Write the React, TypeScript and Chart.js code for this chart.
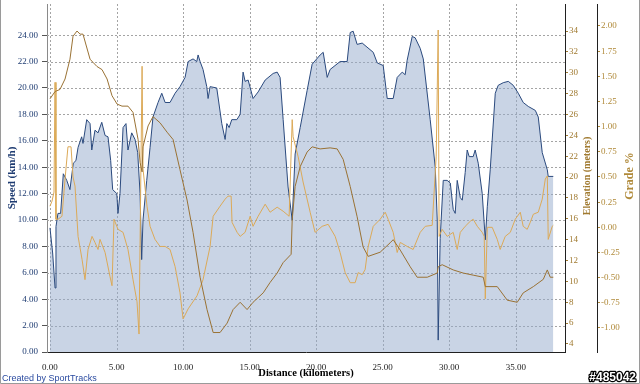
import React, { useEffect, useRef } from "react";
import { Chart, registerables } from "chart.js";

Chart.register(...registerables);

// ---------- data ----------
const speedDistKm = [0.00,0.20,0.38,0.45,0.60,0.80,1.00,1.26,1.50,1.75,1.95,2.11,2.38,2.48,2.76,3.01,3.14,3.38,3.61,3.89,4.14,4.36,4.56,4.71,5.02,5.11,5.26,5.49,5.71,5.86,6.14,6.39,6.59,6.77,6.89,6.99,7.27,7.52,7.74,8.12,8.40,8.65,9.02,9.40,9.77,10.15,10.38,10.75,11.03,11.13,11.28,11.50,11.78,11.88,12.03,12.53,12.91,13.16,13.29,13.46,13.66,14.04,14.29,14.51,14.66,14.89,15.26,15.64,16.17,16.77,17.07,17.29,17.52,17.89,18.20,18.42,18.80,19.32,19.70,20.30,20.53,20.83,21.05,21.80,22.33,22.56,22.78,23.08,23.46,24.29,24.59,25.04,25.34,25.79,26.09,26.47,26.69,26.84,27.22,27.44,27.82,28.05,28.57,28.95,29.10,29.17,29.32,29.55,29.85,30.08,30.30,30.45,30.60,30.83,30.98,31.20,31.35,31.50,31.80,31.95,32.18,32.48,32.71,32.86,33.08,33.46,33.68,34.06,34.44,34.81,35.19,35.56,35.94,36.47,36.69,36.99,37.37,37.44,37.82];
const speedKmh = [9.4,7.5,4.85,9.5,10.5,10.5,13.5,13.0,12.3,14.3,14.5,15.5,16.3,15.8,17.6,17.3,15.3,16.8,16.6,17.4,16.4,16.3,14.5,12.3,12.0,10.5,12.0,17.0,17.3,15.3,16.6,16.1,15.1,12.0,7.0,10.0,13.0,15.5,17.8,18.9,19.6,18.9,18.9,19.6,20.1,20.8,22.0,22.2,22.0,22.5,22.0,21.4,20.1,19.2,20.1,20.0,17.3,16.1,17.3,17.0,17.6,17.6,18.0,21.2,20.5,20.6,19.2,19.7,20.6,21.1,21.2,20.8,17.6,12.5,10.0,15.0,17.0,19.8,21.8,22.5,22.7,20.8,21.4,22.0,22.0,24.2,24.3,23.3,23.4,22.7,21.9,21.7,19.2,19.2,20.8,21.2,21.0,22.1,23.9,23.8,23.0,22.2,17.6,14.0,10.0,0.9,8.6,13.0,13.0,12.8,10.8,10.5,13.0,11.7,11.5,13.6,15.3,14.8,14.8,15.3,14.3,12.0,8.5,11.0,13.8,19.6,20.2,20.4,20.5,20.2,19.6,18.9,18.6,18.3,17.8,15.1,13.8,13.3,13.3];

const elevDistKm = [0.00,0.38,0.75,1.13,1.50,1.73,2.03,2.26,2.48,3.01,3.23,3.53,3.91,4.29,4.66,5.04,5.41,5.86,6.24,6.62,6.77,6.92,6.99,7.37,7.74,8.27,8.80,9.25,9.77,10.30,10.75,11.28,11.80,12.26,12.78,13.31,13.76,14.29,14.81,15.26,16.02,16.54,17.07,17.52,18.12,18.20,18.42,18.80,19.32,19.70,20.30,21.05,21.58,22.03,22.56,23.08,23.53,23.91,24.81,25.56,25.79,26.32,27.07,27.59,28.35,29.10,29.17,29.47,30.30,31.05,31.80,32.56,32.71,33.61,34.36,35.11,35.56,36.32,37.07,37.37,37.59,37.82];
const elevMeters = [27.5,28.2,28.4,29.4,31.3,33.5,34.0,33.7,33.7,31.3,31.0,30.6,30.3,29.4,27.8,27.0,26.8,26.8,26.2,23.6,21.4,20.5,22.9,24.9,25.8,25.2,24.3,23.6,20.7,17.8,14.7,10.4,7.3,5.1,5.1,6.0,7.3,8.0,7.3,8.0,8.9,9.9,10.8,11.8,12.6,15.9,19.1,21.0,22.4,22.9,22.7,22.8,22.7,21.7,19.1,16.2,13.3,12.4,12.8,13.7,14.0,13.0,11.4,10.4,10.4,10.8,11.4,11.6,11.1,10.8,10.6,10.4,9.5,9.5,8.2,8.0,8.9,9.5,10.2,11.1,10.4,10.4];

const gradeDistKm = [0.00,0.15,0.30,0.38,0.45,0.60,0.90,1.13,1.35,1.58,1.73,1.88,2.11,2.41,2.63,2.86,3.16,3.38,3.61,3.76,4.14,4.51,4.66,4.81,5.11,5.49,5.86,6.24,6.54,6.69,6.92,6.99,7.29,7.52,7.89,8.27,8.65,9.02,9.40,9.77,10.00,10.38,11.05,11.50,12.03,12.26,12.78,13.16,13.38,13.61,13.68,14.06,14.29,14.66,15.04,15.26,15.64,16.17,16.54,17.07,17.52,17.97,18.20,18.27,18.65,19.02,19.55,19.92,20.45,20.90,21.43,21.80,22.18,22.56,22.93,23.16,23.46,23.68,23.91,24.29,24.81,25.19,25.41,25.79,26.09,26.32,26.84,27.29,27.82,28.20,28.72,29.02,29.17,29.24,29.47,29.85,30.30,30.60,30.83,31.20,31.58,31.80,32.11,32.48,32.63,32.71,32.86,33.23,33.61,33.83,34.21,34.59,34.96,35.34,35.56,35.86,36.09,36.32,36.69,36.99,37.22,37.37,37.44,37.74,37.82];
const gradePct = [0.21,0.26,0.35,1.44,0.08,0.08,0.11,0.48,0.80,0.80,0.50,0.41,-0.09,-0.32,-0.52,-0.22,-0.09,-0.15,-0.22,-0.12,-0.25,-0.49,-0.58,0.08,-0.02,-0.05,-0.22,-0.52,-0.74,-1.06,1.60,0.58,0.21,0.01,-0.12,-0.19,-0.19,-0.22,-0.39,-0.65,-0.91,-0.81,-0.68,-0.52,-0.19,0.11,0.21,0.28,0.31,0.31,0.05,-0.05,-0.09,-0.05,0.11,0.01,0.11,0.23,0.15,0.20,0.16,0.11,1.07,0.90,0.70,0.45,0.15,-0.05,0.01,0.03,-0.09,-0.25,-0.45,-0.55,-0.55,-0.45,-0.47,-0.42,-0.19,0.01,0.08,0.15,0.08,-0.05,-0.25,-0.15,-0.19,-0.22,-0.05,0.01,0.02,0.70,1.96,-0.09,-0.02,-0.09,-0.05,-0.22,-0.05,0.01,0.06,0.08,0.01,-0.05,-0.09,-0.71,0.00,0.00,-0.12,-0.22,-0.09,-0.05,0.08,0.15,0.01,-0.02,0.05,0.13,0.15,0.28,0.48,0.51,-0.12,0.01,0.02];

const distTicks = [0, 5, 10, 15, 20, 25, 30, 35];
const distTickLabels = ["0.00", "5.00", "10.00", "15.00", "20.00", "25.00", "30.00", "35.00"];
const speedTicks = [0, 2, 4, 6, 8, 10, 12, 14, 16, 18, 20, 22, 24];
const speedTickLabels = ["0.00", "2.00", "4.00", "6.00", "8.00", "10.00", "12.00", "14.00", "16.00", "18.00", "20.00", "22.00", "24.00"];
const elevTicks = [4, 6, 8, 10, 12, 14, 16, 18, 20, 22, 24, 26, 28, 30, 32, 34];
const elevTickLabels = ["4", "6", "8", "10", "12", "14", "16", "18", "20", "22", "24", "26", "28", "30", "32", "34"];
const gradeTicks = [-1, -0.75, -0.5, -0.25, 0, 0.25, 0.5, 0.75, 1, 1.25, 1.5, 1.75, 2];
const gradeTickLabels = ["-1.00", "-0.75", "-0.50", "-0.25", "0.00", "0.25", "0.50", "0.75", "1.00", "1.25", "1.50", "1.75", "2.00"];

const xTitle = "Distance (kilometers)";
const speedTitle = "Speed (km/h)";
const elevTitle = "Elevation (meters)";
const gradeTitle = "Grade %";
const creditText = "Created by SportTracks";
const idText = "#485042";

// ---------- styles ----------
const SERIF = "'Liberation Serif', 'Times New Roman', serif";
const SANS = "'Liberation Sans', Arial, sans-serif";
const SPEED_LINE = "#2b4a7e";
const SPEED_FILL = "rgba(147,169,203,0.5)";
const ELEV_LINE = "#9a7234";
const GRADE_LINE = "#dcaa58";
const ELEV_TEXT = "#a07a30";
const GRADE_TEXT = "#b08a3a";
const SPEED_TEXT = "#1f3c72";

const pts = (xs: number[], ys: number[]) => xs.map((x, i) => ({ x, y: ys[i] }));

const setTicks = (vals: number[]) => (scale: any) => {
  scale.ticks = vals.map((v) => ({ value: v }));
};
const noPad = (w: number | null, h: number | null) => (scale: any) => {
  if (w !== null) scale.width = w;
  if (h !== null) scale.height = h;
  scale.paddingTop = 0;
  scale.paddingBottom = 0;
  scale.paddingLeft = 0;
  scale.paddingRight = 0;
};

const overlay = {
  id: "overlay",
  beforeDraw(chart: any) {
    const ctx = chart.ctx;
    ctx.save();
    ctx.fillStyle = "#ffffff";
    ctx.fillRect(0, 0, chart.width, chart.height);
    ctx.restore();
  },
  beforeDatasetsDraw(chart: any) {
    const ctx = chart.ctx;
    const area = chart.chartArea;
    const xs = chart.scales.x;
    const ys = chart.scales.y;
    ctx.save();
    ctx.strokeStyle = "#a4a4a4";
    ctx.lineWidth = 1;
    ctx.setLineDash([2, 2]);
    distTicks.forEach((v) => {
      const px = Math.round(xs.getPixelForValue(v)) + 0.5;
      ctx.beginPath();
      ctx.moveTo(px, area.top);
      ctx.lineTo(px, area.bottom);
      ctx.stroke();
    });
    speedTicks.forEach((v) => {
      if (v === 0) return;
      const py = Math.round(ys.getPixelForValue(v)) + 0.5;
      ctx.beginPath();
      ctx.moveTo(area.left, py);
      ctx.lineTo(area.right, py);
      ctx.stroke();
    });
    ctx.restore();
  },
  afterDraw(chart: any) {
    const ctx = chart.ctx;
    const area = chart.chartArea;
    const midY = (area.top + area.bottom) / 2;
    const rot = (text: string, x: number, y: number, font: string, color: string) => {
      ctx.save();
      ctx.translate(x, y);
      ctx.rotate(-Math.PI / 2);
      ctx.font = font;
      ctx.fillStyle = color;
      ctx.textAlign = "center";
      ctx.textBaseline = "middle";
      ctx.fillText(text, 0, 0);
      ctx.restore();
    };
    rot(speedTitle, 12, midY, `bold 11px ${SERIF}`, SPEED_TEXT);
    rot(elevTitle, 587, midY - 2, `bold 10px ${SERIF}`, ELEV_TEXT);
    rot(gradeTitle, 630, midY - 2, `bold 12px ${SERIF}`, GRADE_TEXT);

    ctx.save();
    ctx.font = `bold 10.5px ${SERIF}`;
    ctx.fillStyle = "#000000";
    ctx.textAlign = "center";
    ctx.textBaseline = "middle";
    ctx.fillText(xTitle, (area.left + area.right) / 2, 373);

    ctx.font = `9px ${SANS}`;
    ctx.fillStyle = "#2a4aa0";
    ctx.textAlign = "left";
    ctx.textBaseline = "alphabetic";
    ctx.fillText(creditText, 2, 381);

    ctx.font = `bold 12px ${SANS}`;
    ctx.textAlign = "right";
    ctx.lineWidth = 2.5;
    ctx.lineJoin = "round";
    ctx.strokeStyle = "#000000";
    ctx.strokeText(idText, 636, 381);
    ctx.fillStyle = "#ffffff";
    ctx.fillText(idText, 636, 381);

    ctx.strokeStyle = "#9a9a9a";
    ctx.lineWidth = 1;
    ctx.setLineDash([]);
    ctx.beginPath();
    ctx.moveTo(0.5, 0);
    ctx.lineTo(0.5, chart.height - 0.5);
    ctx.lineTo(chart.width - 0.5, chart.height - 0.5);
    ctx.lineTo(chart.width - 0.5, 0);
    ctx.stroke();
    ctx.restore();
  },
};

export default function App() {
  const ref = useRef<HTMLCanvasElement | null>(null);
  useEffect(() => {
    if (!ref.current) return;
    const chart = new Chart(ref.current, {
      type: "line",
      data: {
        datasets: [
          {
            label: "Elevation",
            data: pts(elevDistKm, elevMeters),
            yAxisID: "elev",
            borderColor: ELEV_LINE,
            borderWidth: 1,
            pointRadius: 0,
            fill: false,
            tension: 0,
            order: 0,
          },
          {
            label: "Grade",
            data: pts(gradeDistKm, gradePct),
            yAxisID: "grade",
            borderColor: GRADE_LINE,
            borderWidth: 1,
            pointRadius: 0,
            fill: false,
            tension: 0,
            order: 1,
          },
          {
            label: "Speed",
            data: pts(speedDistKm, speedKmh),
            yAxisID: "y",
            borderColor: SPEED_LINE,
            backgroundColor: SPEED_FILL,
            borderWidth: 1,
            pointRadius: 0,
            fill: "origin",
            tension: 0,
            order: 2,
          },
        ],
      },
      options: {
        responsive: false,
        animation: false,
        devicePixelRatio: 1,
        layout: { padding: { top: 4, left: 0, right: 0, bottom: 0 }, autoPadding: false },
        plugins: { legend: { display: false }, tooltip: { enabled: false } },
        scales: {
          x: {
            type: "linear",
            position: "bottom",
            min: -0.225,
            max: 38.7,
            afterBuildTicks: setTicks(distTicks),
            afterFit: noPad(null, 32),
            ticks: {
              autoSkip: false,
              maxRotation: 0,
              padding: 2,
              color: "#222222",
              font: { family: SERIF, size: 9 },
              callback: (_v: any, i: number) => distTickLabels[i],
            },
            grid: { display: false },
            border: { display: true, color: "#202020", width: 1 },
          },
          y: {
            type: "linear",
            position: "left",
            min: 0,
            max: 26.36,
            afterBuildTicks: setTicks(speedTicks),
            afterFit: noPad(47, null),
            ticks: {
              padding: 4,
              color: SPEED_TEXT,
              font: { family: SERIF, size: 9 },
              callback: (_v: any, i: number) => speedTickLabels[i],
            },
            grid: { display: true, drawOnChartArea: false, drawTicks: true, tickLength: 5, tickColor: "#555555" },
            border: { display: true, color: "#8a8a8a", width: 1 },
          },
          elev: {
            type: "linear",
            position: "right",
            weight: 0,
            min: 3.233,
            max: 36.59,
            afterBuildTicks: setTicks(elevTicks),
            afterFit: noPad(32, null),
            ticks: {
              padding: 1,
              color: ELEV_TEXT,
              font: { family: SERIF, size: 9 },
              callback: (_v: any, i: number) => elevTickLabels[i],
            },
            grid: { display: true, drawOnChartArea: false, drawTicks: true, tickLength: 3, tickColor: ELEV_TEXT },
            border: { display: true, color: "#202020", width: 1 },
          },
          grade: {
            type: "linear",
            position: "right",
            weight: 1,
            min: -1.2385,
            max: 2.2185,
            afterBuildTicks: setTicks(gradeTicks),
            afterFit: noPad(43, null),
            ticks: {
              padding: 1,
              color: GRADE_TEXT,
              font: { family: SERIF, size: 9 },
              callback: (_v: any, i: number) => gradeTickLabels[i],
            },
            grid: { display: true, drawOnChartArea: false, drawTicks: true, tickLength: 3, tickColor: GRADE_TEXT },
            border: { display: true, color: "#202020", width: 1 },
          },
        },
      },
      plugins: [overlay],
    } as any);
    return () => chart.destroy();
  }, []);

  return (
    <div style={{ position: "absolute", left: 0, top: 0, width: 640, height: 384 }}>
      <canvas ref={ref} width={640} height={384} style={{ display: "block", width: 640, height: 384 }} />
    </div>
  );
}
